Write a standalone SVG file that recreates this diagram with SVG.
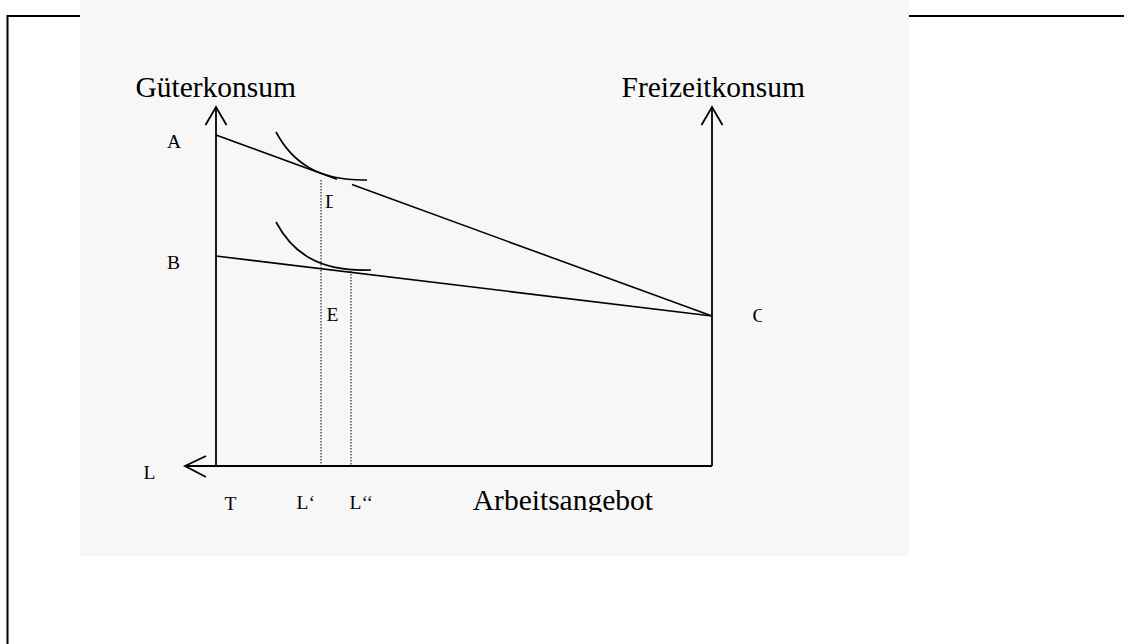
<svg xmlns="http://www.w3.org/2000/svg" width="1124" height="644" viewBox="0 0 1124 644">
<style>
.ax{stroke:#000;stroke-width:1.8;fill:none}
.ln{stroke:#000;stroke-width:1.6;fill:none}
.dot{stroke:#000;stroke-width:1;stroke-dasharray:1.5 1.5;fill:none}
.big{font-family:"Liberation Serif","Times New Roman",serif;font-size:29.5px;fill:#000}
.lbl{font-family:"Liberation Serif","Times New Roman",serif;font-size:19.5px;fill:#000}
</style>
<defs>
<clipPath id="clipD"><rect x="300" y="180" width="33" height="40"/></clipPath>
<clipPath id="clipC"><rect x="740" y="295" width="22" height="40"/></clipPath>
<clipPath id="clipArb"><rect x="440" y="470" width="260" height="42"/></clipPath>
</defs>
<g id="page-border">
<polyline points="80,16 7.5,16 7.5,644" fill="none" stroke="#000" stroke-width="2"/>
<line x1="909" y1="16" x2="1124" y2="16" stroke="#000" stroke-width="2"/>
</g>
<rect id="background" x="80" y="0" width="829" height="556" fill="#f7f7f7"/>
<g id="axes">
<line class="ax" x1="216" y1="107" x2="216" y2="466"/>
<polyline class="ax" points="205.5,125 216,107 226.5,125"/>
<line class="ax" x1="712" y1="107" x2="712" y2="466"/>
<polyline class="ax" points="701.5,125 712,107 722.5,125"/>
<line class="ax" x1="185" y1="466" x2="712" y2="466"/>
<polyline class="ax" points="206,456 185,466 206,477"/>
</g>
<g id="connectors">
<line class="ln" x1="216" y1="135" x2="337" y2="179.2"/>
<line class="ln" x1="352" y1="184.6" x2="712" y2="316"/>
<line class="ln" x1="216" y1="256" x2="712" y2="316"/>
<path class="ln" d="M276,132 C292,162 318,181 367,180"/>
<path class="ln" d="M276,222 C292,252 318,272 371,270"/>
<line class="dot" x1="321" y1="180" x2="321" y2="466"/>
<line class="dot" x1="351" y1="271" x2="351" y2="466"/>
</g>
<g id="titles">
<text class="big" x="296" y="97" text-anchor="end">Güterkonsum</text>
<text class="big" x="805" y="97" text-anchor="end">Freizeitkonsum</text>
<text class="big" x="653" y="510" text-anchor="end" clip-path="url(#clipArb)">Arbeitsangebot</text>
</g>
<g id="labels">
<text class="lbl" x="167" y="148">A</text>
<text class="lbl" x="167" y="269">B</text>
<text class="lbl" x="325" y="208" clip-path="url(#clipD)">D</text>
<text class="lbl" x="326.5" y="321">E</text>
<text class="lbl" x="752.5" y="322" clip-path="url(#clipC)">C</text>
<text class="lbl" x="143.5" y="479">L</text>
<text class="lbl" x="224.5" y="510">T</text>
<text class="lbl" x="296.5" y="509">L‘</text>
<text class="lbl" x="349.5" y="509">L‘‘</text>
</g>
</svg>
